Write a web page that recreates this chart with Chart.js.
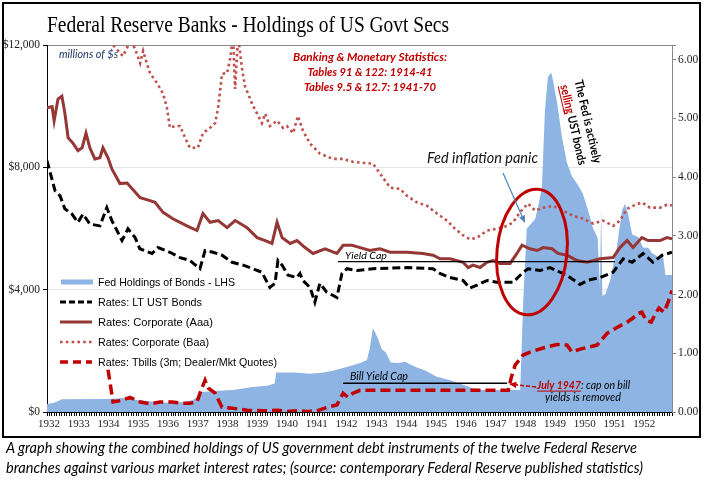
<!DOCTYPE html>
<html>
<head>
<meta charset="utf-8">
<script src="https://cdn.jsdelivr.net/npm/chart.js@4.4.1/dist/chart.umd.min.js"></script>
<style>
  html, body { margin: 0; padding: 0; background: #fff; }
  #wrap { position: relative; width: 705px; height: 481px; overflow: hidden; }
  #frame { position: absolute; left: 2px; top: 2px; width: 699px; height: 436px; border: 2px solid #000; box-sizing: border-box; }
  #chart { position: absolute; left: 0; top: 0; }
  .title { position: absolute; left: 47px; top: 13px; font-family: "Liberation Serif", "DejaVu Serif", serif; font-size: 23px; line-height: 23px; white-space: nowrap; transform-origin: 0 0; color: #000; }
  .cap { position: absolute; left: 6px; font: italic 14.5px Lato; line-height: 20px; white-space: nowrap; transform-origin: 0 0; color: #000; }
</style>
</head>
<body>
<div id="wrap">
  <div id="frame"></div>
  <canvas id="chart" width="705" height="440"></canvas>
  <div class="title" data-w="402">Federal Reserve Banks - Holdings of US Govt Secs</div>
  <div class="cap" style="top:438px" data-w="631">A graph showing the combined holdings of US government debt instruments of the twelve Federal Reserve</div>
  <div class="cap" style="top:458px" data-w="637">branches against various market interest rates; (source: contemporary Federal Reserve published statistics)</div>
</div>
<script>
const serif = '"Liberation Serif", "DejaVu Serif", serif';

// Fed holdings of bonds, $ millions (left axis)
const fedYears = [1932.0, 1932.25, 1932.5, 1934.1, 1934.55, 1935.0, 1935.8, 1936.15, 1936.6, 1936.9,
  1937.05, 1937.2, 1937.6, 1938.25, 1938.9, 1939.4, 1939.65, 1939.7, 1940.3, 1940.85,
  1941.3, 1941.6, 1941.95, 1942.3, 1942.55, 1942.75, 1942.85, 1942.95, 1943.1, 1943.25,
  1943.38, 1943.55, 1943.8, 1944.05, 1944.2, 1944.45, 1944.65, 1945.1, 1945.55, 1946.0,
  1946.3, 1946.65, 1947.9, 1948.0, 1948.12, 1948.4, 1948.5, 1948.63, 1948.73, 1948.83,
  1948.94, 1949.0, 1949.14, 1949.3, 1949.47, 1949.64, 1949.84, 1950.0, 1950.18, 1950.35,
  1950.5, 1950.58, 1950.62, 1950.66, 1950.76, 1950.92, 1951.15, 1951.32, 1951.42, 1951.52,
  1951.66, 1951.86, 1952.03, 1952.2, 1952.33, 1952.53, 1952.7, 1952.78, 1953.0];
const fedHoldings = [260, 300, 420, 425, 460, 400, 310, 300, 330, 390,
  490, 650, 690, 720, 820, 860, 930, 1290, 1290, 1250,
  1290, 1350, 1440, 1540, 1610, 1700, 2100, 2750, 2450, 2050,
  1950, 1620, 1600, 1640, 1550, 1450, 1380, 1150, 1040, 880,
  780, 720, 720, 3600, 6000, 6300, 6700, 7350, 9850, 10950,
  11100, 10850, 10100, 9000, 8150, 7700, 7420, 7150, 6600, 6000,
  5700, 4100, 6600, 3800, 3850, 4300, 5400, 6600, 6800, 6500,
  5800, 5720, 5370, 5370, 5200, 5070, 5070, 4480, 4480];

// Long-term US Treasury bond yield, % (right axis)
const ltYears = [1932.0, 1932.27, 1932.44, 1932.6, 1932.84, 1933.04, 1933.21, 1933.44, 1933.78, 1934.01,
  1934.18, 1934.52, 1934.72, 1934.96, 1935.12, 1935.53, 1935.73, 1936.13, 1936.47, 1936.8,
  1937.14, 1937.31, 1937.58, 1937.88, 1938.22, 1938.59, 1938.82, 1939.22, 1939.49, 1939.66,
  1939.76, 1939.9, 1940.1, 1940.4, 1940.5, 1940.6, 1940.84, 1941.0, 1941.17, 1941.4,
  1941.74, 1941.91, 1942.08, 1942.42, 1942.95, 1944.1, 1944.97, 1945.2, 1945.54, 1945.98,
  1946.21, 1946.45, 1946.79, 1947.12, 1947.66, 1947.96, 1948.16, 1948.57, 1948.9, 1949.24,
  1949.47, 1949.91, 1950.15, 1950.58, 1951.02, 1951.36, 1951.66, 1952.03, 1952.36, 1952.67, 1953.0];
const ltRates = [4.28, 3.77, 3.68, 3.46, 3.37, 3.23, 3.37, 3.20, 3.17, 3.48,
  3.26, 2.92, 3.12, 2.97, 2.78, 2.70, 2.80, 2.72, 2.63, 2.58,
  2.44, 2.75, 2.72, 2.67, 2.55, 2.50, 2.46, 2.38, 2.12, 2.19,
  2.58, 2.50, 2.33, 2.29, 2.36, 2.24, 2.12, 1.87, 2.19, 2.04,
  1.95, 2.36, 2.44, 2.41, 2.44, 2.46, 2.44, 2.36, 2.29, 2.24,
  2.11, 2.16, 2.24, 2.21, 2.21, 2.36, 2.44, 2.41, 2.46, 2.38,
  2.33, 2.17, 2.24, 2.29, 2.38, 2.61, 2.55, 2.70, 2.55, 2.67, 2.72];

// Corporate Aaa yield, %
const aaaYears = [1932.0, 1932.17, 1932.24, 1932.37, 1932.5, 1932.6, 1932.71, 1932.87, 1933.04, 1933.18,
  1933.31, 1933.44, 1933.61, 1933.78, 1933.88, 1934.05, 1934.18, 1934.45, 1934.69, 1935.13,
  1935.46, 1935.63, 1935.9, 1936.23, 1936.7, 1937.04, 1937.24, 1937.48, 1937.75, 1938.05,
  1938.32, 1938.49, 1938.72, 1939.06, 1939.33, 1939.56, 1939.73, 1939.9, 1940.17, 1940.4,
  1940.67, 1940.94, 1941.34, 1941.74, 1941.95, 1942.25, 1942.52, 1942.85, 1943.19, 1943.53,
  1944.1, 1944.63, 1944.97, 1945.21, 1945.54, 1945.98, 1946.15, 1946.31, 1946.55, 1946.78,
  1946.99, 1947.22, 1947.56, 1947.79, 1947.96, 1948.23, 1948.47, 1948.67, 1948.97, 1949.17,
  1949.47, 1949.81, 1950.15, 1950.58, 1951.02, 1951.25, 1951.49, 1951.69, 1951.99, 1952.2,
  1952.6, 1952.83, 1953.0];
const aaaRates = [5.18, 5.20, 4.96, 5.33, 5.38, 5.09, 4.67, 4.58, 4.45, 4.50,
  4.75, 4.50, 4.31, 4.33, 4.50, 4.33, 4.14, 3.89, 3.90, 3.65,
  3.60, 3.57, 3.40, 3.29, 3.17, 3.09, 3.38, 3.23, 3.26, 3.14,
  3.26, 3.21, 3.14, 2.97, 2.92, 2.87, 3.23, 2.97, 2.87, 2.92,
  2.80, 2.70, 2.78, 2.70, 2.84, 2.84, 2.80, 2.75, 2.78, 2.72,
  2.72, 2.70, 2.67, 2.61, 2.61, 2.55, 2.46, 2.50, 2.46, 2.55,
  2.58, 2.53, 2.53, 2.70, 2.84, 2.78, 2.75, 2.80, 2.78, 2.70,
  2.67, 2.58, 2.55, 2.61, 2.63, 2.80, 2.92, 2.80, 2.97, 2.92,
  2.92, 2.97, 2.95];

// Corporate Baa yield, % (runs off the top of the chart before mid 1934)
const baaYears = [1932.0, 1932.4, 1932.9, 1933.3, 1933.6, 1934.0, 1934.22, 1934.55, 1934.69, 1934.82,
  1935.02, 1935.13, 1935.23, 1935.36, 1935.46, 1935.7, 1935.9, 1936.03, 1936.13, 1936.3,
  1936.47, 1936.64, 1936.8, 1937.07, 1937.24, 1937.48, 1937.65, 1937.75, 1937.88, 1938.05,
  1938.15, 1938.25, 1938.32, 1938.42, 1938.55, 1938.65, 1938.75, 1938.89, 1939.06, 1939.22,
  1939.33, 1939.49, 1939.73, 1939.93, 1940.06, 1940.27, 1940.43, 1940.6, 1940.84, 1941.17,
  1941.61, 1941.95, 1942.28, 1942.95, 1943.29, 1943.53, 1943.86, 1944.1, 1944.43, 1944.77,
  1945.1, 1945.44, 1945.71, 1945.98, 1946.21, 1946.45, 1946.79, 1947.12, 1947.46, 1947.66,
  1947.89, 1948.16, 1948.4, 1948.67, 1949.0, 1949.34, 1949.67, 1950.01, 1950.35, 1950.68,
  1951.02, 1951.25, 1951.49, 1951.69, 1951.99, 1952.26, 1952.6, 1952.83, 1953.0];
const baaRates = [8.2, 10.5, 8.6, 9.0, 7.3, 7.0, 6.25, 6.06, 6.20, 6.35,
  6.10, 5.94, 6.15, 5.93, 5.77, 5.60, 5.42, 5.18, 4.84, 4.87,
  4.87, 4.67, 4.50, 4.50, 4.75, 4.84, 4.92, 5.18, 5.76, 5.77,
  6.01, 6.40, 5.50, 6.40, 5.86, 5.55, 5.43, 5.25, 5.08, 4.92,
  5.08, 4.87, 4.96, 4.84, 4.87, 4.75, 5.04, 4.79, 4.57, 4.40,
  4.31, 4.31, 4.26, 4.23, 3.99, 3.82, 3.80, 3.68, 3.57, 3.51,
  3.38, 3.26, 3.12, 3.01, 2.94, 2.97, 3.09, 3.12, 3.17, 3.23,
  3.40, 3.55, 3.43, 3.48, 3.51, 3.43, 3.34, 3.29, 3.21, 3.26,
  3.17, 3.26, 3.46, 3.51, 3.57, 3.48, 3.48, 3.53, 3.52];

// 3-month Treasury bill rate, %
const tbillYears = [1934.05, 1934.22, 1934.52, 1934.79, 1935.13, 1935.46, 1935.8, 1936.2, 1936.54, 1936.8,
  1937.04, 1937.14, 1937.31, 1937.41, 1937.65, 1937.88, 1938.15, 1938.72, 1939.26, 1939.73,
  1940.06, 1940.4, 1940.74, 1941.07, 1941.41, 1941.74, 1941.95, 1942.11, 1942.28, 1942.52,
  1947.5, 1947.6, 1947.73, 1948.0, 1948.23, 1948.67, 1949.14, 1949.47, 1949.64, 1949.91,
  1950.48, 1950.82, 1951.15, 1951.49, 1951.69, 1951.86, 1951.99, 1952.13, 1952.3, 1952.43,
  1952.56, 1952.73, 1952.87, 1953.0];
const tbillRates = [0.72, 0.17, 0.20, 0.25, 0.17, 0.14, 0.17, 0.17, 0.15, 0.15,
  0.17, 0.32, 0.54, 0.41, 0.32, 0.08, 0.07, 0.03, 0.02, 0.03,
  0.01, 0.02, 0.01, 0.02, 0.08, 0.12, 0.32, 0.25, 0.32, 0.37,
  0.37, 0.59, 0.80, 0.97, 1.02, 1.09, 1.15, 1.14, 1.02, 1.07,
  1.14, 1.34, 1.44, 1.53, 1.60, 1.68, 1.70, 1.56, 1.53, 1.66,
  1.77, 1.70, 1.87, 2.07];

// Cap reference lines
const yieldCapYears = [1941.78, 1951.08];
const yieldCapRate = [2.56, 2.56];
const billCapYears = [1941.95, 1947.46];
const billCapRate = [0.49, 0.49];

const monthTicks = Array.from({ length: 253 }, (_, i) => 1932 + i / 12);

const pts = (xs, ys) => xs.map((x, i) => ({ x: x, y: ys[i] }));

// draw a row of text pieces squeezed / stretched to a given width
function drawRuns(ctx, runs, x, y, width, align) {
  let total = 0;
  runs.forEach((r) => {
    ctx.font = r.font;
    r.w = ctx.measureText(r.text).width;
    total += r.w;
  });
  const s = width / total;
  ctx.save();
  ctx.translate(align === "center" ? x - width / 2 : x, y);
  ctx.scale(s, 1);
  ctx.textAlign = "left";
  ctx.textBaseline = "alphabetic";
  let cx = 0;
  runs.forEach((r) => {
    ctx.font = r.font;
    ctx.fillStyle = r.color || "#000";
    ctx.fillText(r.text, cx, 0);
    if (r.underline) ctx.fillRect(cx, 1.6, r.w, 1);
    cx += r.w;
  });
  ctx.restore();
}

function arrow(ctx, x1, y1, x2, y2, color, width, dash) {
  const a = Math.atan2(y2 - y1, x2 - x1);
  ctx.save();
  ctx.strokeStyle = color;
  ctx.fillStyle = color;
  ctx.lineWidth = width;
  ctx.setLineDash(dash || []);
  ctx.beginPath();
  ctx.moveTo(x1, y1);
  ctx.lineTo(x2 - 5 * Math.cos(a), y2 - 5 * Math.sin(a));
  ctx.stroke();
  ctx.setLineDash([]);
  ctx.beginPath();
  ctx.moveTo(x2, y2);
  ctx.lineTo(x2 - 8 * Math.cos(a - 0.4), y2 - 8 * Math.sin(a - 0.4));
  ctx.lineTo(x2 - 8 * Math.cos(a + 0.4), y2 - 8 * Math.sin(a + 0.4));
  ctx.closePath();
  ctx.fill();
  ctx.restore();
}

const notesPlugin = {
  id: "notes",
  afterDatasetsDraw(chart) {
    const ctx = chart.ctx;
    // red ellipse round the 1948 jump
    ctx.save();
    ctx.strokeStyle = "#C00000";
    ctx.lineWidth = 3;
    ctx.beginPath();
    ctx.ellipse(532, 252, 35, 63, 0.1, 0, Math.PI * 2);
    ctx.stroke();
    ctx.restore();
    arrow(ctx, 503, 173, 525, 223, "#4F81BD", 1.2);
    arrow(ctx, 536, 387, 509, 384, "#C00000", 1.5, [4, 2]);
  },
  afterDraw(chart) {
    const ctx = chart.ctx;
    const it = "italic 12px Lato";
    const bi = "italic bold 12px Lato";

    drawRuns(ctx, [{ text: "millions of $s", font: "italic 11px Lato", color: "#1F3864" }], 59, 58, 59, "left");

    drawRuns(ctx, [{ text: "Banking & Monetary Statistics:", font: bi, color: "#C00000" }], 370, 61, 154, "center");
    drawRuns(ctx, [{ text: "Tables 91 & 122: 1914-41", font: bi, color: "#C00000" }], 370, 76, 125, "center");
    drawRuns(ctx, [{ text: "Tables 9.5 & 12.7: 1941-70", font: bi, color: "#C00000" }], 370, 91, 132, "center");

    drawRuns(ctx, [{ text: "Fed inflation panic", font: "italic 15px Lato", color: "#111" }], 427, 163, 111, "left");

    ctx.save();
    ctx.translate(588, 121.5);
    ctx.rotate((77 * Math.PI) / 180);
    drawRuns(ctx, [{ text: "The Fed is actively", font: "bold 12px Lato" }], 0, 4, 85, "center");
    drawRuns(ctx, [
      { text: "selling", font: "bold 12px Lato", color: "#C00000", underline: true },
      { text: " UST bonds", font: "bold 12px Lato" },
    ], 0, 19, 82, "center");
    ctx.restore();

    drawRuns(ctx, [{ text: "Yield Cap", font: "italic 10px Lato" }], 345, 259, 42, "left");
    drawRuns(ctx, [{ text: "Bill Yield Cap", font: "italic 11px Lato" }], 350, 380, 58, "left");

    drawRuns(ctx, [
      { text: "July 1947", font: bi, color: "#C00000", underline: true },
      { text: ": cap on bill", font: it },
    ], 537, 389, 93, "left");
    drawRuns(ctx, [{ text: "yields is removed", font: it }], 545, 401, 76, "left");

    // legend
    const rows = [6, 5, 4, 3, 2];
    const widths = [137, 104, 115, 111, 179];
    rows.forEach((di, i) => {
      const ds = chart.data.datasets[di];
      const y = 282 + i * 20;
      ctx.save();
      if (ds.fill) {
        ctx.fillStyle = ds.backgroundColor;
        ctx.fillRect(61, y - 2.5, 32, 5);
      } else {
        ctx.strokeStyle = ds.borderColor;
        ctx.lineWidth = ds.borderWidth;
        ctx.setLineDash(ds.legendDash || ds.borderDash || []);
        ctx.beginPath();
        ctx.moveTo(60, y);
        ctx.lineTo(92, y);
        ctx.stroke();
      }
      ctx.restore();
      drawRuns(ctx, [{ text: ds.label, font: '11px "Liberation Sans", Arial, sans-serif', color: "#000" }], 98, y + 4, widths[i], "left");
    });
  },
};

const chart = new Chart(document.getElementById("chart"), {
  type: "line",
  data: {
    datasets: [
      {
        label: "Yield Cap",
        data: pts(yieldCapYears, yieldCapRate),
        yAxisID: "y1",
        borderColor: "#000",
        borderWidth: 1.3,
        pointRadius: 0,
      },
      {
        label: "Bill Yield Cap",
        data: pts(billCapYears, billCapRate),
        yAxisID: "y1",
        borderColor: "#000",
        borderWidth: 1.3,
        pointRadius: 0,
      },
      {
        label: "Rates: Tbills (3m; Dealer/Mkt Quotes)",
        data: pts(tbillYears, tbillRates),
        yAxisID: "y1",
        borderColor: "#C00000",
        borderWidth: 3.5,
        borderDash: [10, 5],
        legendDash: [8, 5],
        pointRadius: 0,
      },
      {
        label: "Rates: Corporate (Baa)",
        data: pts(baaYears, baaRates),
        yAxisID: "y1",
        borderColor: "#C0504D",
        borderWidth: 2.6,
        borderDash: [2.6, 3.2],
        pointRadius: 0,
      },
      {
        label: "Rates: Corporate (Aaa)",
        data: pts(aaaYears, aaaRates),
        yAxisID: "y1",
        borderColor: "#953735",
        borderWidth: 3,
        pointRadius: 0,
      },
      {
        label: "Rates: LT UST Bonds",
        data: pts(ltYears, ltRates),
        yAxisID: "y1",
        borderColor: "#000",
        borderWidth: 3,
        borderDash: [8, 4],
        legendDash: [6, 3],
        pointRadius: 0,
      },
      {
        label: "Fed Holdings of Bonds - LHS",
        data: pts(fedYears, fedHoldings),
        yAxisID: "y",
        fill: "origin",
        backgroundColor: "#8DB4E2",
        borderWidth: 0,
        pointRadius: 0,
      },
    ],
  },
  options: {
    responsive: false,
    animation: false,
    clip: 0,
    layout: { padding: { top: 45, left: 0, right: 0, bottom: 0 } },
    plugins: { legend: { display: false }, tooltip: { enabled: false } },
    scales: {
      x: {
        type: "linear",
        min: 1932,
        max: 1953,
        afterBuildTicks(s) {
          s.ticks = monthTicks.map((v) => ({ value: v }));
        },
        afterFit(s) {
          s.height = 28;
        },
        ticks: {
          autoSkip: false,
          maxRotation: 0,
          labelOffset: 2,
          padding: 2,
          color: "#222",
          font: { family: serif, size: 11 },
          callback: (v) => (Math.abs(v - Math.round(v)) < 1e-6 && v < 1952.5 ? String(Math.round(v)) : ""),
        },
        grid: { drawOnChartArea: false, tickLength: 4, color: "#000" },
        border: { color: "#000", width: 1 },
      },
      y: {
        position: "left",
        min: 0,
        max: 12000,
        afterFit(s) {
          s.width = 47;
        },
        ticks: {
          stepSize: 4000,
          color: "#222",
          font: { family: serif, size: 11.5 },
          callback: (v) => "$" + v.toLocaleString("en-US"),
        },
        grid: {
          color: (c) => (c.tick.value === 12000 ? "#888" : c.tick.value === 0 ? "rgba(0,0,0,0)" : "#e6e6e6"),
          tickColor: "#000",
          tickLength: 4,
        },
        border: { color: "#000", width: 1 },
      },
      y1: {
        position: "right",
        min: 0,
        max: 6.25,
        afterFit(s) {
          s.width = 33;
        },
        ticks: {
          stepSize: 1,
          padding: 2,
          color: "#222",
          font: { family: serif, size: 11.5 },
          callback: (v) => (Number.isInteger(v) ? v.toFixed(2) : ""),
        },
        grid: { drawOnChartArea: false, tickLength: 4, color: "#888" },
        border: { color: "#888", width: 1 },
      },
    },
  },
  plugins: [notesPlugin],
});

// stretch title and caption to the widths seen in the picture
document.querySelectorAll("[data-w]").forEach((el) => {
  const w = el.getBoundingClientRect().width;
  el.style.transform = "scaleX(" + el.dataset.w / w + ")";
});
</script>
</body>
</html>
